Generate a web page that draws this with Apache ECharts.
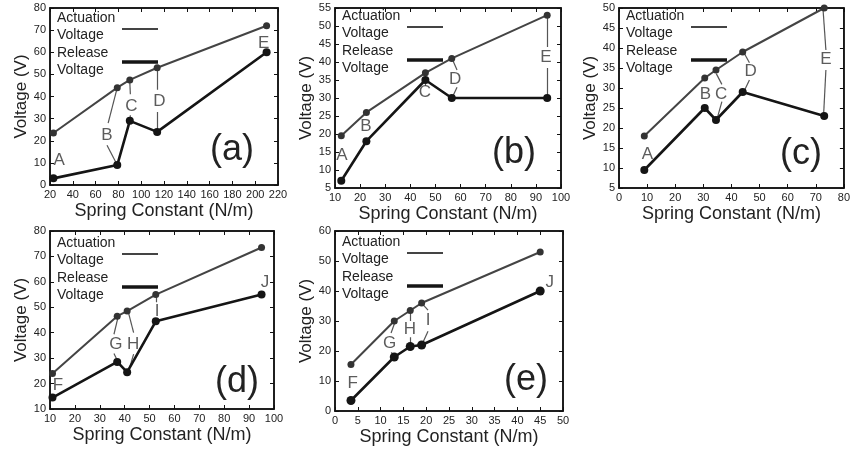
<!DOCTYPE html>
<html>
<head>
<meta charset="utf-8">
<script src="https://cdn.jsdelivr.net/npm/echarts@6/dist/echarts.min.js"></script>
<style>
  html, body { margin: 0; padding: 0; background: #fff; }
  #chart { width: 853px; height: 453px; }
</style>
</head>
<body>
<div id="chart"></div>
<script>
// spring constant (N/m) and voltages (V) for each panel
var kA = [23, 79, 90, 114, 210];
var actA = [23.5, 44, 47.5, 53, 72];
var relA = [3, 9, 29, 24, 60];

var kB = [12.5, 22.5, 46, 56.5, 94.5];
var actB = [19.5, 26, 37, 41, 53];
var relB = [7, 18, 35, 30, 30];

var kC = [9, 30.5, 34.5, 44, 73];
var actC = [18, 32.5, 34.5, 39, 50];
var relC = [9.5, 25, 22, 29, 23];

var kD = [11, 37, 41, 52.5, 95];
var actD = [24, 46.5, 48.5, 55, 73.5];
var relD = [14.5, 28.5, 24.5, 44.5, 55];

var kE = [3.5, 13, 16.5, 19, 45];
var actE = [15.5, 30, 33.5, 36, 53];
var relE = [3.5, 18, 21.5, 22, 40];

// axis ranges [min, max, interval]
var xRanges = [[20, 220, 20], [10, 100, 10], [0, 80, 10], [10, 100, 10], [0, 50, 5]];
var yRanges = [[0, 80, 10], [5, 55, 5], [5, 50, 5], [10, 80, 10], [0, 60, 10]];

// letter annotations (data coords) and their leader lines
var lettersA = [['A', 28, 11], ['B', 70, 22.5], ['C', 91.5, 35.5], ['D', 116, 38], ['E', 207.5, 64]];
var leadsA = [[[79, 44], [71, 28]], [[70, 18], [79, 9]], [[90, 46.5], [90.5, 41]], [[90.5, 31.5], [90, 29]],
  [[114, 52], [114, 43]], [[114, 33], [114, 24]]];

var lettersB = [['A', 12.8, 14.2], ['B', 22.3, 22.2], ['C', 45.8, 31.6], ['D', 57.8, 35.3], ['E', 94, 41.4]];
var leadsB = [[[46, 34.8], [46, 33.4]], [[56.6, 41], [58.6, 37.8]], [[58.6, 33], [56.6, 30]],
  [[94.5, 52.5], [94.5, 44.2]], [[94.5, 38.3], [94.5, 30.3]]];

var lettersC = [['A', 10.1, 13.5], ['B', 30.7, 28.5], ['C', 36.3, 28.5], ['D', 46.8, 34.25], ['E', 73.6, 37.25]];
var leadsC = [[[34.6, 33.6], [36.6, 30.9]], [[36.6, 26.6], [35, 22.6]], [[44.7, 38.5], [46.4, 36.3]],
  [[46.4, 32], [44.7, 29.5]], [[72.6, 49.5], [73.6, 39.5]], [[73.6, 34.5], [72.8, 23.5]]];

var lettersD = [['F', 13.2, 19.4], ['G', 36.5, 35.5], ['H', 43.4, 35.5], ['I', 53, 48.5], ['J', 96.4, 60]];
var leadsD = [[[37.2, 45.5], [35.7, 39.4]], [[35.7, 31.8], [37.2, 28.8]], [[41.6, 47.6], [43.6, 40]],
  [[43.6, 31.6], [41.6, 25]], [[52.8, 54.2], [52.8, 52]]];

var lettersE = [['F', 3.9, 9.3], ['G', 12, 22.7], ['H', 16.4, 27.3], ['I', 20.4, 30.2], ['J', 47.1, 43]];
var leadsE = [[[13.1, 29.4], [12.3, 26]], [[12.3, 19.5], [13, 18.6]], [[16.4, 32.8], [16.4, 30]],
  [[16.4, 24.6], [16.4, 22]], [[19.2, 35.6], [20.4, 33.6]], [[20.4, 26.6], [19.2, 22.6]]];

var panelNames = ['(a)', '(b)', '(c)', '(d)', '(e)'];

var grids = [
  { left: 50, top: 8, width: 228, height: 177 },
  { left: 335, top: 8, width: 226, height: 180 },
  { left: 619, top: 8, width: 229, height: 180 },
  { left: 50, top: 231, width: 224, height: 178 },
  { left: 335, top: 231, width: 228, height: 180 }
];
var panelPos = [[232, 150], [514, 153], [801, 154], [237, 382], [526, 380]];
var legendTop = [12, 10, 10, 14, 13];

var ks = [kA, kB, kC, kD, kE];
var acts = [actA, actB, actC, actD, actE];
var rels = [relA, relB, relC, relD, relE];
var letters = [lettersA, lettersB, lettersC, lettersD, lettersE];
var leads = [leadsA, leadsB, leadsC, leadsD, leadsE];

var font = 'Liberation Sans, Arial, sans-serif';
var xAxes = [], yAxes = [], series = [], graphics = [];

function pairs(xs, ys) {
  var out = [];
  for (var i = 0; i < xs.length; i++) out.push([xs[i], ys[i]]);
  return out;
}

grids.forEach(function (g) {
  g.show = true;
  g.borderColor = '#111';
  g.borderWidth = 1.5;
  g.containLabel = false;
});

for (var p = 0; p < 5; p++) {
  var xr = xRanges[p], yr = yRanges[p];
  var tick = { show: true, inside: true, length: 4, lineStyle: { color: '#111', width: 1 } };
  var line = { show: true, onZero: false, lineStyle: { color: '#111', width: 1.5 } };
  xAxes.push({
    type: 'value', gridIndex: p, position: 'bottom', min: xr[0], max: xr[1], interval: xr[2],
    axisLine: line, axisTick: tick, splitLine: { show: false },
    axisLabel: { margin: 4, fontSize: 11, color: '#222', fontFamily: font },
    name: 'Spring Constant (N/m)', nameLocation: 'middle', nameGap: 17,
    nameTextStyle: { fontSize: 18, color: '#222', fontFamily: font }
  });
  xAxes.push({
    type: 'value', gridIndex: p, position: 'top', min: xr[0], max: xr[1], interval: xr[2],
    axisLine: line, axisTick: tick, splitLine: { show: false }, axisLabel: { show: false }
  });
  yAxes.push({
    type: 'value', gridIndex: p, position: 'left', min: yr[0], max: yr[1], interval: yr[2],
    axisLine: line, axisTick: tick, splitLine: { show: false },
    axisLabel: { margin: 4, fontSize: 11, color: '#222', fontFamily: font },
    name: 'Voltage (V)', nameLocation: 'middle', nameGap: 19,
    nameTextStyle: { fontSize: 17, color: '#222', fontFamily: font }
  });
  yAxes.push({
    type: 'value', gridIndex: p, position: 'right', min: yr[0], max: yr[1], interval: yr[2],
    axisLine: line, axisTick: tick, splitLine: { show: false }, axisLabel: { show: false }
  });

  var xi = p * 2, yi = p * 2;
  series.push({
    type: 'lines', coordinateSystem: 'cartesian2d', xAxisIndex: xi, yAxisIndex: yi,
    data: leads[p].map(function (s) { return { coords: s }; }),
    lineStyle: { color: '#555', width: 1.2, opacity: 1 }, silent: true, z: 1
  });
  // empty series so the mirror axes are drawn
  series.push({
    type: 'line', xAxisIndex: xi + 1, yAxisIndex: yi + 1, data: [], silent: true
  });
  series.push({
    type: 'line', name: 'Actuation Voltage', xAxisIndex: xi, yAxisIndex: yi,
    data: pairs(ks[p], acts[p]), symbol: 'circle', symbolSize: 7,
    lineStyle: { color: '#444', width: 2 }, itemStyle: { color: '#333' }, z: 3
  });
  series.push({
    type: 'line', name: 'Release Voltage', xAxisIndex: xi, yAxisIndex: yi,
    data: pairs(ks[p], rels[p]), symbol: 'circle', symbolSize: p === 4 ? 9 : 8,
    lineStyle: { color: '#151515', width: 2.6 }, itemStyle: { color: '#151515' }, z: 3
  });
  series.push({
    type: 'scatter', xAxisIndex: xi, yAxisIndex: yi, silent: true, z: 4,
    data: letters[p].map(function (l) { return { name: l[0], value: [l[1], l[2]] }; }),
    symbolSize: 1, itemStyle: { color: 'rgba(0,0,0,0)' },
    label: { show: true, position: 'inside', formatter: '{b}', fontSize: 17, color: '#333', fontFamily: font }
  });

  var g = grids[p], lt = g.top + legendTop[p];
  var rows = ['Actuation', 'Voltage', 'Release', 'Voltage'];
  for (var r = 0; r < 4; r++) {
    graphics.push({
      type: 'text', left: g.left + 7, top: lt + r * 17.5 - 9, z: 10,
      style: { text: rows[r], font: '14px ' + font, fill: '#222' }
    });
  }
  graphics.push({ type: 'line', z: 10, shape: { x1: g.left + 72, y1: lt + 9, x2: g.left + 108, y2: lt + 9 },
    style: { stroke: '#444', lineWidth: 2 } });
  graphics.push({ type: 'line', z: 10, shape: { x1: g.left + 72, y1: lt + 42, x2: g.left + 108, y2: lt + 42 },
    style: { stroke: '#151515', lineWidth: 3.5 } });
  graphics.push({
    type: 'text', x: panelPos[p][0], y: panelPos[p][1], z: 10,
    style: { text: panelNames[p], font: '36px ' + font, fill: '#222', align: 'center', verticalAlign: 'middle' }
  });
}

var chart = echarts.init(document.getElementById('chart'));
chart.setOption({
  animation: false,
  backgroundColor: '#fff',
  grid: grids,
  xAxis: xAxes,
  yAxis: yAxes,
  series: series,
  graphic: graphics
});
</script>
</body>
</html>
